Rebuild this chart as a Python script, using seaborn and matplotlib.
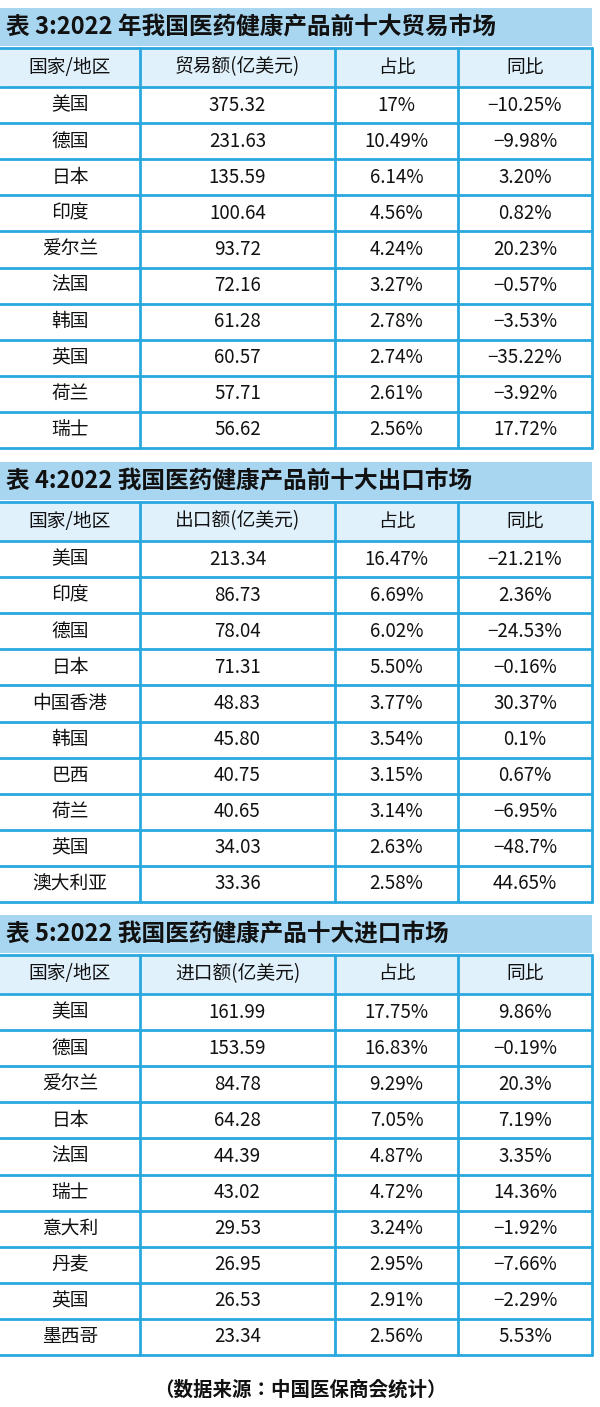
import matplotlib
matplotlib.use("Agg")
import matplotlib.pyplot as plt
import seaborn as sns
from matplotlib.patches import Rectangle

sns.set_theme(style="white")
FAM = ["Noto Sans CJK SC", "Noto Sans CJK JP", "Noto Sans CJK TC", "DejaVu Sans"]
plt.rcParams["font.family"] = "sans-serif"
plt.rcParams["font.sans-serif"] = FAM

titles = ["表 3:2022 年我国医药健康产品前十大贸易市场",
          "表 4:2022 我国医药健康产品前十大出口市场",
          "表 5:2022 我国医药健康产品十大进口市场"]
headers = [["国家/地区", "贸易额(亿美元)", "占比", "同比"],
           ["国家/地区", "出口额(亿美元)", "占比", "同比"],
           ["国家/地区", "进口额(亿美元)", "占比", "同比"]]
countries3 = ["美国", "德国", "日本", "印度", "爱尔兰", "法国", "韩国", "英国", "荷兰", "瑞士"]
values3 = ["375.32", "231.63", "135.59", "100.64", "93.72", "72.16", "61.28", "60.57", "57.71", "56.62"]
share3 = ["17%", "10.49%", "6.14%", "4.56%", "4.24%", "3.27%", "2.78%", "2.74%", "2.61%", "2.56%"]
yoy3 = ["-10.25%", "-9.98%", "3.20%", "0.82%", "20.23%", "-0.57%", "-3.53%", "-35.22%", "-3.92%", "17.72%"]
countries4 = ["美国", "印度", "德国", "日本", "中国香港", "韩国", "巴西", "荷兰", "英国", "澳大利亚"]
values4 = ["213.34", "86.73", "78.04", "71.31", "48.83", "45.80", "40.75", "40.65", "34.03", "33.36"]
share4 = ["16.47%", "6.69%", "6.02%", "5.50%", "3.77%", "3.54%", "3.15%", "3.14%", "2.63%", "2.58%"]
yoy4 = ["-21.21%", "2.36%", "-24.53%", "-0.16%", "30.37%", "0.1%", "0.67%", "-6.95%", "-48.7%", "44.65%"]
countries5 = ["美国", "德国", "爱尔兰", "日本", "法国", "瑞士", "意大利", "丹麦", "英国", "墨西哥"]
values5 = ["161.99", "153.59", "84.78", "64.28", "44.39", "43.02", "29.53", "26.95", "26.53", "23.34"]
share5 = ["17.75%", "16.83%", "9.29%", "7.05%", "4.87%", "4.72%", "3.24%", "2.95%", "2.91%", "2.56%"]
yoy5 = ["9.86%", "-0.19%", "20.3%", "7.19%", "3.35%", "14.36%", "-1.92%", "-7.66%", "-2.29%", "5.53%"]
source = "（数据来源：中国医保商会统计）"

tables = [(countries3, values3, share3, yoy3),
          (countries4, values4, share4, yoy4),
          (countries5, values5, share5, yoy5)]

W, H = 600, 1407
fig = plt.figure(figsize=(6, 14.07), dpi=100)
ax = fig.add_axes([0, 0, 1, 1])
ax.set_xlim(0, W)
ax.set_ylim(H, 0)
ax.axis("off")

line_c = "#29a8e0"
title_bg = "#a8d5ef"
head_bg = "#e1f1fb"
cols = [0, 140, 335, 458, 592]
tops = [8, 462, 915]
row_h = 36.1

for t, (c, v, s, y) in enumerate(tables):
    top = tops[t]
    ax.add_patch(Rectangle((0, top), cols[-1], 38, color=title_bg, lw=0))
    ax.text(6, top + 19, titles[t], fontsize=17, fontweight="bold", va="center", ha="left",
            color="#111", fontfamily=FAM)
    htop = top + 40
    ax.add_patch(Rectangle((0, htop), cols[-1], 38, color=head_bg, lw=0))
    for j, h in enumerate(headers[t]):
        ax.text((cols[j] + cols[j + 1]) / 2, htop + 19, h, fontsize=13.5, ha="center", va="center",
                color="#111", fontfamily=FAM)
    rtop = htop + 39
    ys = [htop, rtop] + [rtop + row_h * (i + 1) for i in range(10)]
    for yy in ys:
        ax.plot([0, cols[-1]], [yy, yy], color=line_c, lw=2)
    for xx in cols[1:]:
        ax.plot([xx, xx], [htop, ys[-1]], color=line_c, lw=2)
    for i in range(10):
        cy = rtop + row_h * i + row_h / 2
        row = [c[i], v[i], s[i], y[i].replace("-", "−")]
        for j, txt in enumerate(row):
            ax.text((cols[j] + cols[j + 1]) / 2, cy, txt, fontsize=13.5, ha="center", va="center",
                    color="#111", fontfamily=FAM)

ax.text(300, 1390, source, fontsize=14, fontweight="bold", ha="center", va="center",
        color="#111", fontfamily=FAM)
fig.savefig("out.png", dpi=100, facecolor="white")
